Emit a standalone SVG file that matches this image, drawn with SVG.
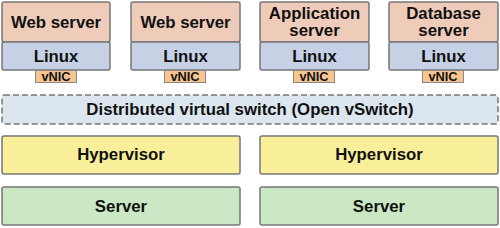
<svg xmlns="http://www.w3.org/2000/svg" width="500" height="228" viewBox="0 0 500 228">
<style>
text{font-family:"Liberation Sans",Arial,sans-serif;font-weight:bold;fill:#111;text-anchor:middle}
.t{font-size:16.8px}
.s{font-size:12.8px}
.app{fill:#efcbb9;stroke:#777;stroke-width:1.5}
.os{fill:#c6d1e6;stroke:#777;stroke-width:1.5}
.nic{fill:#f8c48f;stroke:#888;stroke-width:1}
.sw{fill:#dbe6ee;stroke:#777;stroke-width:1.5;stroke-dasharray:6,3}
.hv{fill:#f9ef9a;stroke:#777;stroke-width:1.5}
.sv{fill:#c9e8c3;stroke:#777;stroke-width:1.5}
</style>
<g id="vm1">
<rect class="app" x="2" y="2" width="108" height="40" rx="2"/>
<rect class="os" x="2" y="42" width="108" height="28" rx="2"/>
<rect class="nic" x="35.5" y="70.5" width="41" height="12"/>
<text class="t" x="56" y="28">Web server</text>
<text class="t" x="56" y="62">Linux</text>
<text class="s" x="56" y="81">vNIC</text>
</g>
<g id="vm2">
<rect class="app" x="131" y="2" width="109" height="40" rx="2"/>
<rect class="os" x="131" y="42" width="109" height="28" rx="2"/>
<rect class="nic" x="164.5" y="70.5" width="41" height="12"/>
<text class="t" x="185.5" y="28">Web server</text>
<text class="t" x="185.5" y="62">Linux</text>
<text class="s" x="185" y="81">vNIC</text>
</g>
<g id="vm3">
<rect class="app" x="260" y="2" width="109" height="40" rx="2"/>
<rect class="os" x="260" y="42" width="109" height="28" rx="2"/>
<rect class="nic" x="293.5" y="70.5" width="41" height="12"/>
<text class="t" x="314.5" y="19">Application</text>
<text class="t" x="314.5" y="36">server</text>
<text class="t" x="314.5" y="62">Linux</text>
<text class="s" x="314" y="81">vNIC</text>
</g>
<g id="vm4">
<rect class="app" x="389" y="2" width="109" height="40" rx="2"/>
<rect class="os" x="389" y="42" width="109" height="28" rx="2"/>
<rect class="nic" x="422.5" y="70.5" width="41" height="12"/>
<text class="t" x="443.5" y="19">Database</text>
<text class="t" x="443.5" y="36">server</text>
<text class="t" x="443.5" y="62">Linux</text>
<text class="s" x="443" y="81">vNIC</text>
</g>
<g id="switch">
<rect class="sw" x="2" y="95" width="496" height="29" rx="2"/>
<text class="t" x="250" y="115">Distributed virtual switch (Open vSwitch)</text>
</g>
<g id="hv1">
<rect class="hv" x="2" y="136" width="238" height="38" rx="2"/>
<text class="t" x="121" y="160">Hypervisor</text>
</g>
<g id="hv2">
<rect class="hv" x="260" y="136" width="238" height="38" rx="2"/>
<text class="t" x="379" y="160">Hypervisor</text>
</g>
<g id="srv1">
<rect class="sv" x="2" y="187" width="238" height="38" rx="2"/>
<text class="t" x="121" y="212">Server</text>
</g>
<g id="srv2">
<rect class="sv" x="260" y="187" width="238" height="38" rx="2"/>
<text class="t" x="379" y="212">Server</text>
</g>
<g id="connectors"></g>
</svg>
